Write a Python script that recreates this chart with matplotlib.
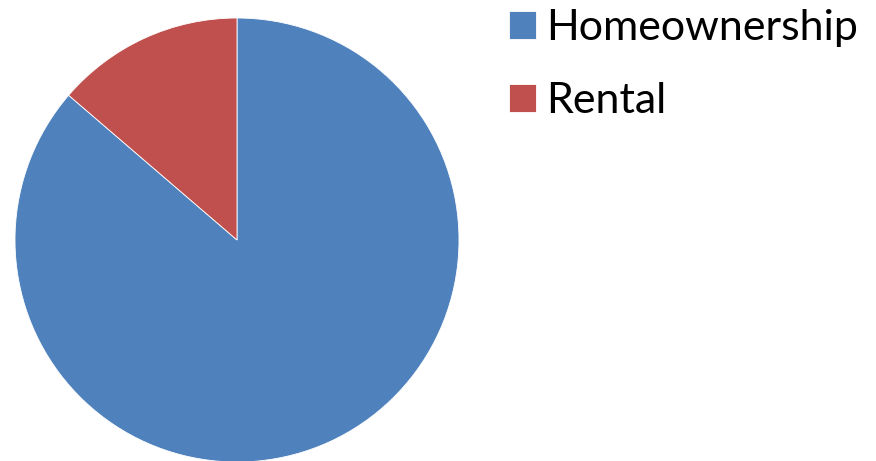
import matplotlib
matplotlib.use('Agg')
import matplotlib.pyplot as plt

labels = ['Homeownership', 'Rental']
shares = [86.3, 13.7]
colors = ['#4F81BD', '#C0504D']

plt.rcParams['font.family'] = ['Lato', 'DejaVu Sans']

fig = plt.figure(figsize=(8.76, 4.61), dpi=100)
# pie centre at about (237, 240) px, radius 222 px
ax = fig.add_axes([15/876, -1/461, 444/876, 444/461])
wedges, _ = ax.pie(shares, colors=colors, startangle=90, counterclock=False,
                   wedgeprops=dict(edgecolor='white', linewidth=0.6))
ax.set_xlim(-1, 1)
ax.set_ylim(-1, 1)
ax.set_aspect('equal')
ax.axis('off')

fig.legend(wedges, labels, loc='upper left', bbox_to_anchor=(479/876, 1 + 21/461),
           frameon=False, fontsize=31, handlelength=0.62, handleheight=0.62,
           handletextpad=0.25, labelspacing=0.82, borderpad=0.2)

fig.savefig('out.png', dpi=100)
